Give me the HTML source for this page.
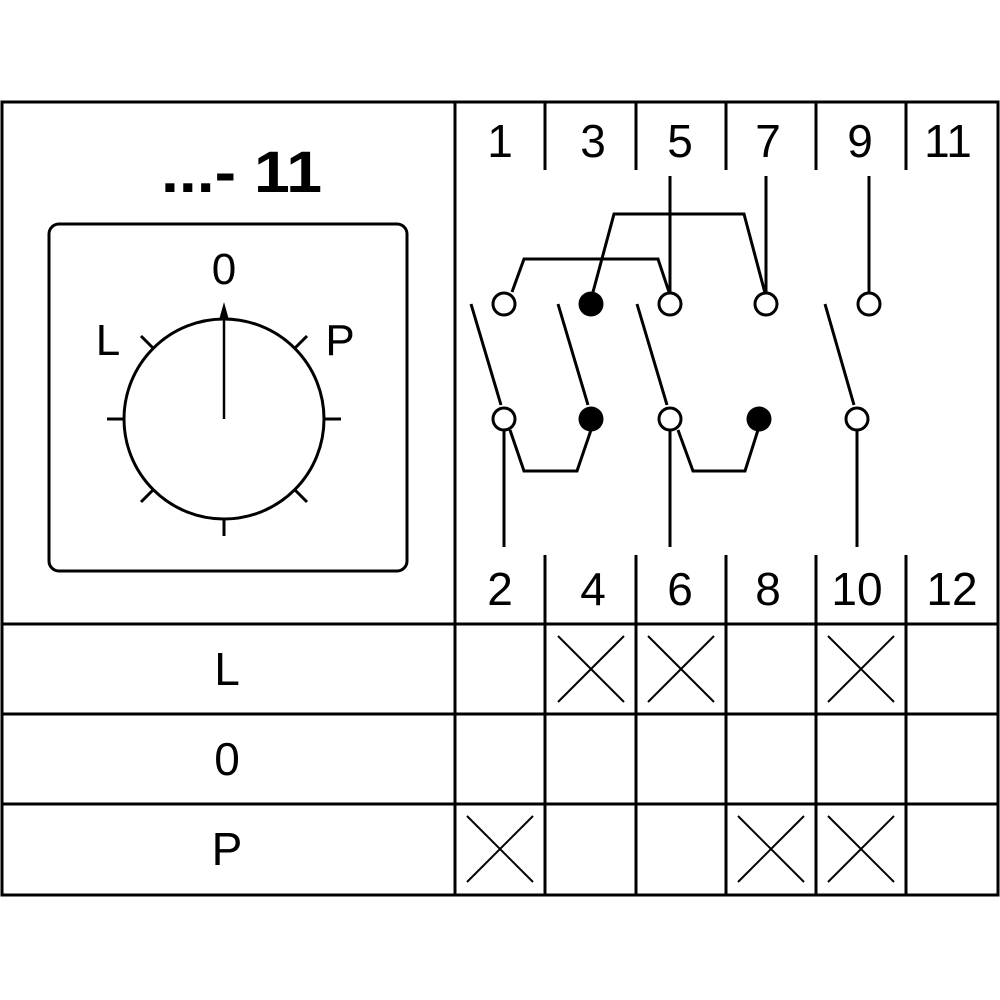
<!DOCTYPE html>
<html><head><meta charset="utf-8"><style>html,body{margin:0;padding:0;background:#fff}svg{display:block}</style></head>
<body>
<svg width="1000" height="1000" viewBox="0 0 1000 1000" xmlns="http://www.w3.org/2000/svg" font-family="Liberation Sans, sans-serif">
<g fill="none" stroke="#000" stroke-width="3">
<rect x="2" y="102" width="996" height="793"/>
<line x1="455" y1="102" x2="455" y2="895"/>
<line x1="2" y1="624" x2="998" y2="624"/>
<line x1="2" y1="714" x2="998" y2="714"/>
<line x1="2" y1="804" x2="998" y2="804"/>
<path d="M545 102V170M636 102V170M726 102V170M816 102V170M906 102V170"/>
<path d="M545 555V895M636 555V895M726 555V895M816 555V895M906 555V895"/>
<rect x="49" y="224" width="358" height="347" rx="10"/>
<circle cx="224" cy="419" r="100"/>
</g>
<g stroke="#000" stroke-width="3">
<line x1="107" y1="419" x2="124" y2="419"/>
<line x1="324" y1="419" x2="341" y2="419"/>
<line x1="224" y1="519" x2="224" y2="536"/>
<line x1="153" y1="348" x2="141" y2="336"/>
<line x1="295" y1="348" x2="307" y2="336"/>
<line x1="153" y1="490" x2="141" y2="502"/>
<line x1="295" y1="490" x2="307" y2="502"/>
<line x1="224" y1="419" x2="224" y2="315" stroke-width="2.5"/>
</g>
<polygon points="224,302 219,320 229,320" fill="#000"/>
<g font-size="44" text-anchor="middle" fill="#000">
<text x="224" y="284">0</text>
<text x="108" y="355">L</text>
<text x="340" y="355">P</text>
</g>
<text x="161" y="192" font-size="58" font-weight="bold" textLength="161" lengthAdjust="spacingAndGlyphs">...- 11</text>
<g font-size="46" text-anchor="middle">
<text x="500" y="157">1</text><text x="593" y="157">3</text><text x="680" y="157">5</text><text x="768" y="157">7</text><text x="860" y="157">9</text><text x="948" y="157">11</text>
<text x="500" y="605">2</text><text x="593" y="605">4</text><text x="680" y="605">6</text><text x="768" y="605">8</text><text x="857" y="605">10</text><text x="952" y="605">12</text>
<text x="227" y="685">L</text><text x="227" y="775">0</text><text x="227" y="865">P</text>
</g>
<g fill="none" stroke="#000" stroke-width="3">
<path d="M670 176V293M766 176V293M869 176V293"/>
<path d="M512 292L524 259H658L669 292"/>
<path d="M593 292L614 214H744L765 293"/>
<path d="M471 304L501 405M558 304L588 405M637 304L667 405M825 304L854 405"/>
<path d="M504 430V547M670 430V547M857 430V547"/>
<path d="M510 430L524 471H577L591 430"/>
<path d="M678 430L693 471H745L758 430"/>
</g>
<g stroke="#000" stroke-width="3" fill="#fff">
<circle cx="504" cy="304" r="11"/><circle cx="670" cy="304" r="11"/><circle cx="766" cy="304" r="11"/><circle cx="869" cy="304" r="11"/>
<circle cx="504" cy="419" r="11"/><circle cx="670" cy="419" r="11"/><circle cx="857" cy="419" r="11"/>
</g>
<g fill="#000">
<circle cx="591" cy="304" r="12.5"/><circle cx="591" cy="419" r="12.5"/><circle cx="759" cy="419" r="12.5"/>
</g>
<g stroke="#000" stroke-width="2">
<path d="M558 636L624 702M624 636L558 702"/>
<path d="M648 636L714 702M714 636L648 702"/>
<path d="M828 636L894 702M894 636L828 702"/>
<path d="M467 816L533 882M533 816L467 882"/>
<path d="M738 816L804 882M804 816L738 882"/>
<path d="M828 816L894 882M894 816L828 882"/>
</g>
</svg>
</body></html>
